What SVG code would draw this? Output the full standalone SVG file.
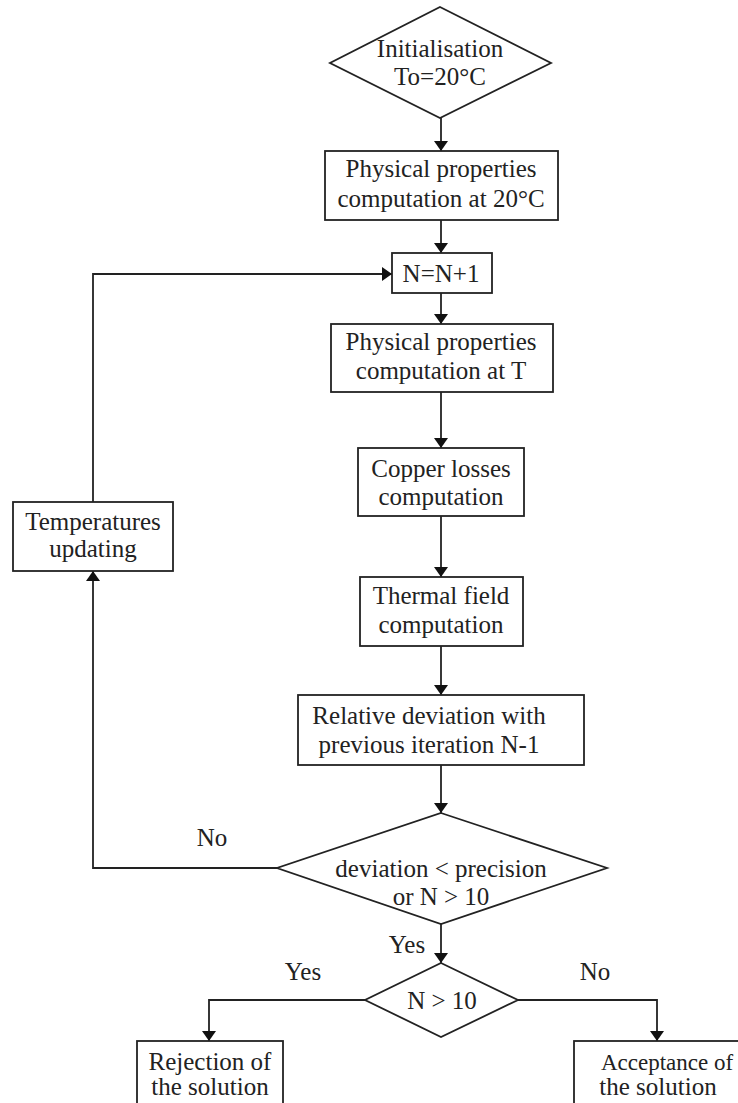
<svg xmlns="http://www.w3.org/2000/svg" width="738" height="1103" viewBox="0 0 738 1103">
<style>
.n{fill:#fff;stroke:#222;stroke-width:1.8}
.c{fill:none;stroke:#222;stroke-width:1.8}
text{font-family:"Liberation Serif","Times New Roman",serif;font-size:25px;fill:#222;text-anchor:middle}
</style>
<defs>
<marker id="ah" viewBox="0 0 10 14" refX="10" refY="7" markerWidth="10" markerHeight="14" markerUnits="userSpaceOnUse" orient="auto">
<path d="M0,0 L10,7 L0,14 Z" fill="#111"/>
</marker>
</defs>
<rect width="738" height="1103" fill="#fff"/>
<g id="connectors">
<path class="c" d="M441,118 V151" marker-end="url(#ah)"/>
<path class="c" d="M441,220 V253" marker-end="url(#ah)"/>
<path class="c" d="M441,293 V324" marker-end="url(#ah)"/>
<path class="c" d="M441,392 V448" marker-end="url(#ah)"/>
<path class="c" d="M441,516 V577" marker-end="url(#ah)"/>
<path class="c" d="M441,646 V695" marker-end="url(#ah)"/>
<path class="c" d="M441,765 V813" marker-end="url(#ah)"/>
<path class="c" d="M441,924 V963" marker-end="url(#ah)"/>
<path class="c" d="M277,868 H93 V571" marker-end="url(#ah)"/>
<path class="c" d="M93,502 V274 H392" marker-end="url(#ah)"/>
<path class="c" d="M365,1000 H209 V1041" marker-end="url(#ah)"/>
<path class="c" d="M518,1000 H657 V1041" marker-end="url(#ah)"/>
<text x="212" y="846">No</text>
<text x="407" y="953">Yes</text>
<text x="303" y="980">Yes</text>
<text x="595" y="980">No</text>
</g>
<g id="init">
<polygon class="n" points="440,7 551,63 440,118 330,63"/>
<text x="440" y="57">Initialisation</text>
<text x="440" y="85">To=20°C</text>
</g>
<g id="props20">
<rect class="n" x="325" y="151" width="233" height="69"/>
<text x="441" y="177">Physical properties</text>
<text x="441" y="207">computation at 20°C</text>
</g>
<g id="increment">
<rect class="n" x="392" y="253" width="100" height="40"/>
<text x="441" y="282">N=N+1</text>
</g>
<g id="propsT">
<rect class="n" x="331" y="324" width="222" height="68"/>
<text x="441" y="350">Physical properties</text>
<text x="441" y="379">computation at T</text>
</g>
<g id="copper">
<rect class="n" x="358" y="448" width="166" height="68"/>
<text x="441" y="477">Copper losses</text>
<text x="441" y="505">computation</text>
</g>
<g id="thermal">
<rect class="n" x="360" y="577" width="163" height="69"/>
<text x="441" y="604">Thermal field</text>
<text x="441" y="633">computation</text>
</g>
<g id="deviation">
<rect class="n" x="298" y="695" width="286" height="70"/>
<text x="429" y="724">Relative deviation with</text>
<text x="429" y="753">previous iteration N-1</text>
</g>
<g id="test">
<polygon class="n" points="441,813 607,868 441,924 277,868"/>
<text x="441" y="877">deviation &lt; precision</text>
<text x="441" y="905">or N &gt; 10</text>
</g>
<g id="update">
<rect class="n" x="13" y="502" width="160" height="69"/>
<text x="93" y="530">Temperatures</text>
<text x="93" y="557">updating</text>
</g>
<g id="limit">
<polygon class="n" points="441,963 518,1000 441,1037 365,1000"/>
<text x="442" y="1009">N &gt; 10</text>
</g>
<g id="reject">
<rect class="n" x="137" y="1041" width="146" height="80"/>
<text x="210" y="1070">Rejection of</text>
<text x="210" y="1095">the solution</text>
</g>
<g id="accept">
<rect class="n" x="574" y="1041" width="204" height="80"/>
<text x="667" y="1070" style="font-size:23px">Acceptance of</text>
<text x="658" y="1095">the solution</text>
</g>
</svg>
